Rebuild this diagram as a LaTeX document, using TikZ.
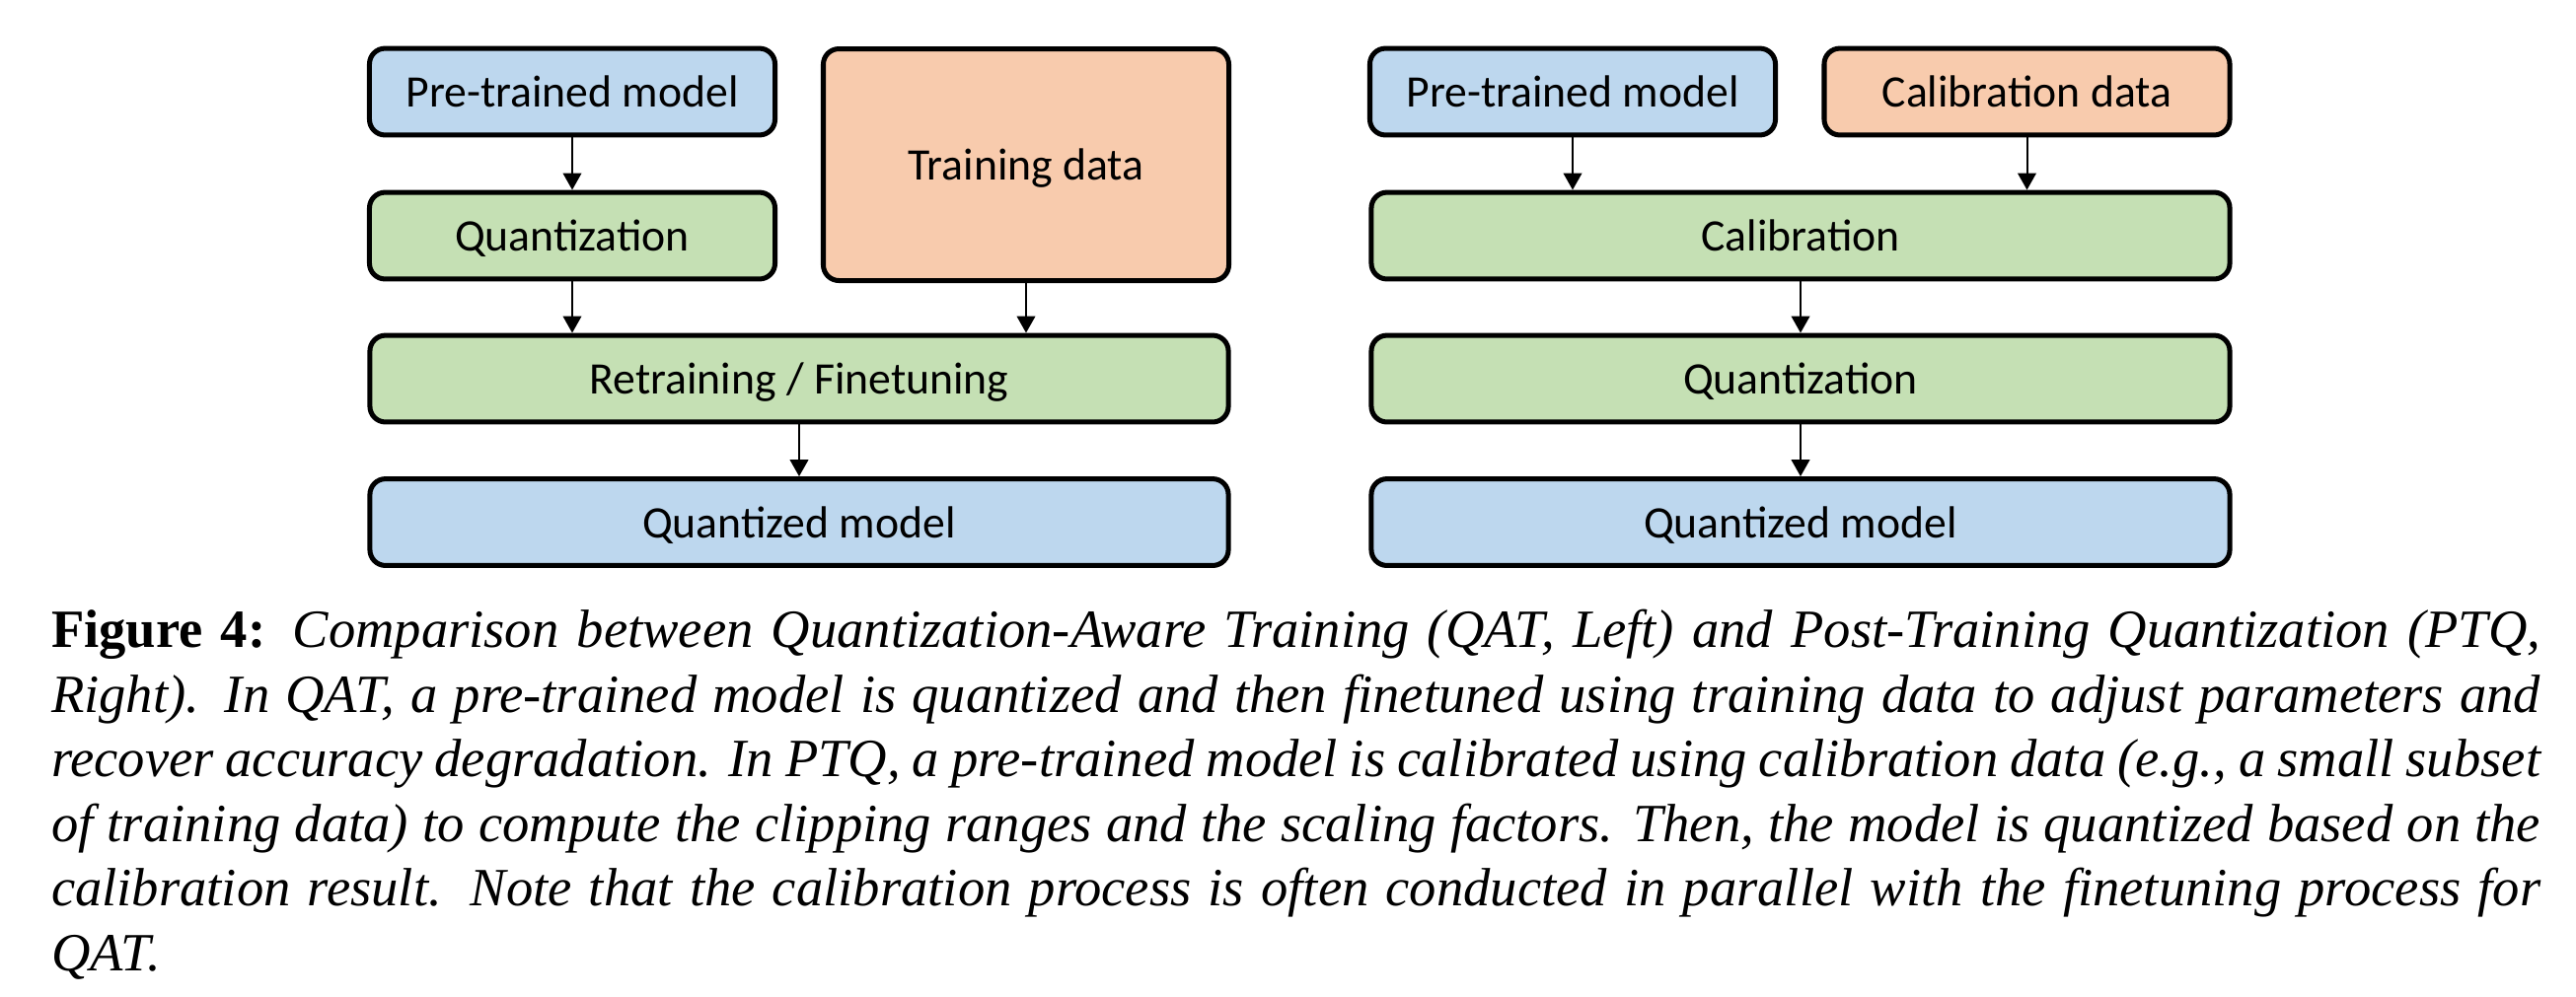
\documentclass[tikz,border=0pt]{standalone}
\usepackage{fontspec}
\setmainfont{Liberation Serif}
\newfontfamily\boxfont{Carlito}
\usepackage{tikz}
\usetikzlibrary{calc}
\usetikzlibrary{arrows.meta}

\definecolor{modelblue}{HTML}{BDD7EE}
\definecolor{stepgreen}{HTML}{C5E0B4}
\definecolor{dataorange}{HTML}{F8CBAD}

\begin{document}
\begin{tikzpicture}[x=0.1832pt,y=-0.1832pt,
        box/.style={draw,line width=0.92pt,rounded corners=2.9pt,inner sep=0pt,
            minimum height=16.1pt,text height=7pt,text depth=1.15pt,
            font={\boxfont\fontsize{8.37}{10}\selectfont}},
        narrow/.style={box,minimum width=75.3pt},
        wide/.style={box,minimum width=159.4pt},
        flow/.style={-{Triangle[length=3.1pt,width=3.4pt]},line width=0.37pt}]
                \useasboundingbox (0,0) rectangle (2611,1010);
                % QAT, left
                \node[narrow,fill=modelblue] (pre) at (580,93) {Pre-trained model};
                \node[narrow,fill=stepgreen] (quant) at (580,239) {Quantization};
                \node[narrow,fill=dataorange,minimum height=43.05pt] (train) at (1040,167) {Training data};
                \node[wide,fill=stepgreen] (retrain) at (810,384) {Retraining / Finetuning};
                \node[wide,fill=modelblue] (qmodel) at (810,529.5) {Quantized model};
                \draw[flow] (pre)--(quant);
                \draw[flow] (quant)--(quant|-retrain.north);
                \draw[flow] (train)--(train|-retrain.north);
                \draw[flow] (retrain)--(qmodel);

                % PTQ, right
                \node[narrow,fill=modelblue] (prep) at (1594,93) {Pre-trained model};
                \node[narrow,fill=dataorange] (caldata) at (2054.5,93) {Calibration data};
                \node[wide,fill=stepgreen] (calib) at (1825,239) {Calibration};
                \node[wide,fill=stepgreen] (quantp) at (1825,384) {Quantization};
                \node[wide,fill=modelblue] (qmodelp) at (1825,529.5) {Quantized model};
                \draw[flow] (prep)--(prep|-calib.north);
                \draw[flow] (caldata)--(caldata|-calib.north);
                \draw[flow] (calib)--(quantp);
                \draw[flow] (quantp)--(qmodelp);

                \node[anchor=base west,inner sep=0pt] (cap) at (51,656.7) {\parbox[t]{462.2pt}{\fontsize{10}{12}\selectfont
                    \hyphenpenalty=10000 \exhyphenpenalty=10000
                    \textbf{Figure 4:} \textit{Comparison between Quantization-Aware Training (QAT, Left) and Post-Training Quantization (PTQ,\linebreak
                    Right). In QAT, a pre-trained model is quantized and then finetuned using training data to adjust parameters and\linebreak
                    recover accuracy degradation. In PTQ, a pre-trained model is calibrated using calibration data (e.g., a small subset\linebreak
                    of training data) to compute the clipping ranges and the scaling factors. Then, the model is quantized based on the\linebreak
                    calibration result. Note that the calibration process is often conducted in parallel with the finetuning process for\linebreak
                    QAT.}}};
            \end{tikzpicture}
\end{document}
